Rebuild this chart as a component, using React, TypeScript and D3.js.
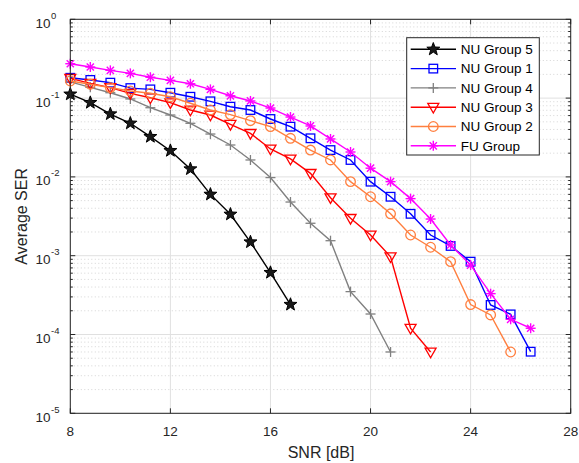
import React from "react";
import * as d3 from "d3";

const snr = [8, 8.8, 9.6, 10.4, 11.2, 12, 12.8, 13.6, 14.4, 15.2, 16, 16.8, 17.6, 18.4, 19.2, 20, 20.8, 21.6, 22.4, 23.2, 24, 24.8, 25.6, 26.4];

const nu5 = [0.112, 0.0875, 0.0628, 0.0479, 0.0324, 0.0215, 0.0126, 0.006, 0.00335, 0.00149, 0.00061, 0.00024];
const nu1 = [0.181, 0.17, 0.157, 0.134, 0.129, 0.117, 0.104, 0.091, 0.0778, 0.0706, 0.0543, 0.0434, 0.0309, 0.0219, 0.0164, 0.0087, 0.0056, 0.0034, 0.00183, 0.00133, 0.00084, 0.000237, 0.00018, 0.0000605];
const nu4 = [0.161, 0.137, 0.117, 0.0975, 0.0755, 0.061, 0.0479, 0.035, 0.0254, 0.0164, 0.0098, 0.0048, 0.00258, 0.00155, 0.00035, 0.000182, 0.00006];
const nu3 = [0.178, 0.154, 0.136, 0.115, 0.101, 0.0875, 0.0706, 0.061, 0.0465, 0.0357, 0.0226, 0.0169, 0.0111, 0.00545, 0.00298, 0.00183, 0.00097, 0.00012, 0.00006];
const nu2 = [0.165, 0.15, 0.136, 0.123, 0.115, 0.104, 0.086, 0.0706, 0.0616, 0.0517, 0.0434, 0.0309, 0.0219, 0.0164, 0.0087, 0.0056, 0.0034, 0.00183, 0.00128, 0.00084, 0.00024, 0.000177, 0.00006];
const fu = [0.273, 0.248, 0.225, 0.206, 0.184, 0.168, 0.152, 0.129, 0.107, 0.092, 0.0748, 0.0575, 0.0443, 0.0303, 0.0207, 0.0129, 0.0087, 0.0053, 0.00292, 0.00137, 0.00076, 0.00033, 0.000156, 0.00012];

const xTicks = [8, 12, 16, 20, 24, 28];
const yExps = [0, -1, -2, -3, -4, -5];

const seriesNames = ["NU Group 5", "NU Group 1", "NU Group 4", "NU Group 3", "NU Group 2", "FU Group"];
const seriesData = [nu5, nu1, nu4, nu3, nu2, fu];
const seriesColors = ["#000000", "#0000ff", "#808080", "#ff0000", "#ff7f3f", "#ff00ff"];
const seriesMarkers = ["star", "square", "plus", "tri", "circle", "asterisk"];

const W = 579, H = 463;
const L = 70.3, R = 570.7, T = 19.3, B = 413.3;

function Marker({ type, x, y, color }: { type: string; x: number; y: number; color: string }) {
  if (type === "star") {
    const pts: string[] = [];
    for (let i = 0; i < 10; i++) {
      const r = i % 2 === 0 ? 6.8 : 2.8;
      const a = -Math.PI / 2 + (i * Math.PI) / 5;
      pts.push(`${x + r * Math.cos(a)},${y + r * Math.sin(a)}`);
    }
    return <polygon points={pts.join(" ")} fill="#1a1a1a" stroke="#000" strokeWidth={1} />;
  }
  if (type === "square") {
    return <rect x={x - 4.3} y={y - 4.3} width={8.6} height={8.6} fill="none" stroke={color} strokeWidth={1.3} />;
  }
  if (type === "circle") {
    return <circle cx={x} cy={y} r={4.8} fill="none" stroke={color} strokeWidth={1.3} />;
  }
  if (type === "tri") {
    const s = 5.5;
    return <polygon points={`${x - s},${y - s * 0.7} ${x + s},${y - s * 0.7} ${x},${y + s * 1.05}`} fill="none" stroke={color} strokeWidth={1.3} />;
  }
  if (type === "plus") {
    return (
      <g stroke={color} strokeWidth={1.3}>
        <line x1={x - 5} y1={y} x2={x + 5} y2={y} />
        <line x1={x} y1={y - 5} x2={x} y2={y + 5} />
      </g>
    );
  }
  const r = 5;
  const d = r * 0.72;
  return (
    <g stroke={color} strokeWidth={1.4}>
      <line x1={x - r} y1={y} x2={x + r} y2={y} />
      <line x1={x} y1={y - r} x2={x} y2={y + r} />
      <line x1={x - d} y1={y - d} x2={x + d} y2={y + d} />
      <line x1={x - d} y1={y + d} x2={x + d} y2={y - d} />
    </g>
  );
}

export default function App() {
  const xs = d3.scaleLinear().domain([8, 28]).range([L, R]);
  const ys = d3.scaleLog().domain([1e-5, 1]).range([B, T]);
  const line = d3.line<[number, number]>().x((d) => xs(d[0])).y((d) => ys(d[1]));

  const minor: number[] = [];
  for (let e = -5; e < 0; e++) for (let m = 2; m <= 9; m++) minor.push(m * Math.pow(10, e));

  const font = "'Liberation Sans', Arial, Helvetica, sans-serif";
  const lgX = 406.7, lgY = 37.7, lgW = 132.6, lgH = 117.3, rowH = 19.3;

  return (
    <svg width={W} height={H} style={{ position: "absolute", left: 0, top: 0, background: "#fff" }} fontFamily={font}>
      <rect x={0} y={0} width={W} height={H} fill="#fff" />
      {minor.map((v, i) => (
        <line key={"mg" + i} x1={L} x2={R} y1={ys(v)} y2={ys(v)} stroke="#b8b8b8" strokeWidth={0.6} strokeDasharray="1,2.5" />
      ))}
      {xTicks.map((t) => (
        <line key={"gx" + t} x1={xs(t)} x2={xs(t)} y1={T} y2={B} stroke="#e0e0e0" strokeWidth={1} />
      ))}
      {yExps.map((e) => (
        <line key={"gy" + e} x1={L} x2={R} y1={ys(Math.pow(10, e))} y2={ys(Math.pow(10, e))} stroke="#e0e0e0" strokeWidth={1} />
      ))}
      {seriesData.map((vals, si) => {
        const pts: [number, number][] = vals.map((v, i) => [snr[i], v]);
        return (
          <g key={"s" + si}>
            <path d={line(pts) || ""} fill="none" stroke={seriesColors[si]} strokeWidth={1.4} />
            {pts.map((p, i) => (
              <Marker key={i} type={seriesMarkers[si]} x={xs(p[0])} y={ys(p[1])} color={seriesColors[si]} />
            ))}
          </g>
        );
      })}
      <rect x={L} y={T} width={R - L} height={B - T} fill="none" stroke="#262626" strokeWidth={1} />
      {xTicks.map((t) => (
        <g key={"tx" + t}>
          <line x1={xs(t)} x2={xs(t)} y1={B} y2={B - 5} stroke="#262626" />
          <line x1={xs(t)} x2={xs(t)} y1={T} y2={T + 5} stroke="#262626" />
          <text x={xs(t)} y={B + 23} textAnchor="middle" fontSize={13.5} fill="#262626">{t}</text>
        </g>
      ))}
      {yExps.map((e) => (
        <g key={"ty" + e}>
          <line x1={L} x2={L + 5} y1={ys(Math.pow(10, e))} y2={ys(Math.pow(10, e))} stroke="#262626" />
          <line x1={R} x2={R - 5} y1={ys(Math.pow(10, e))} y2={ys(Math.pow(10, e))} stroke="#262626" />
          <text x={50.5} y={ys(Math.pow(10, e)) + 8.5} textAnchor="end" fontSize={13.5} fill="#262626">10</text>
          <text x={51} y={ys(Math.pow(10, e)) - 0.5} textAnchor="start" fontSize={9.5} fill="#262626">{e === 0 ? "0" : "-" + Math.abs(e)}</text>
        </g>
      ))}
      {minor.map((v, i) => (
        <g key={"mt" + i}>
          <line x1={L} x2={L + 2.5} y1={ys(v)} y2={ys(v)} stroke="#262626" />
          <line x1={R} x2={R - 2.5} y1={ys(v)} y2={ys(v)} stroke="#262626" />
        </g>
      ))}
      <text x={321} y={457.5} textAnchor="middle" fontSize={16} fill="#262626">SNR [dB]</text>
      <text transform={`translate(27,${(T + B) / 2}) rotate(-90)`} textAnchor="middle" fontSize={16} fill="#262626">Average SER</text>
      <rect x={lgX} y={lgY} width={lgW} height={lgH} fill="#fff" stroke="#262626" strokeWidth={1} />
      {seriesNames.map((n, i) => {
        const cy = lgY + 11.6 + i * rowH;
        return (
          <g key={"lg" + i}>
            <line x1={410.7} x2={456} y1={cy} y2={cy} stroke={seriesColors[i]} strokeWidth={1.4} />
            <Marker type={seriesMarkers[i]} x={433.3} y={cy} color={seriesColors[i]} />
            <text x={460.7} y={cy + 4.8} fontSize={13.5} fill="#000">{n}</text>
          </g>
        );
      })}
    </svg>
  );
}
